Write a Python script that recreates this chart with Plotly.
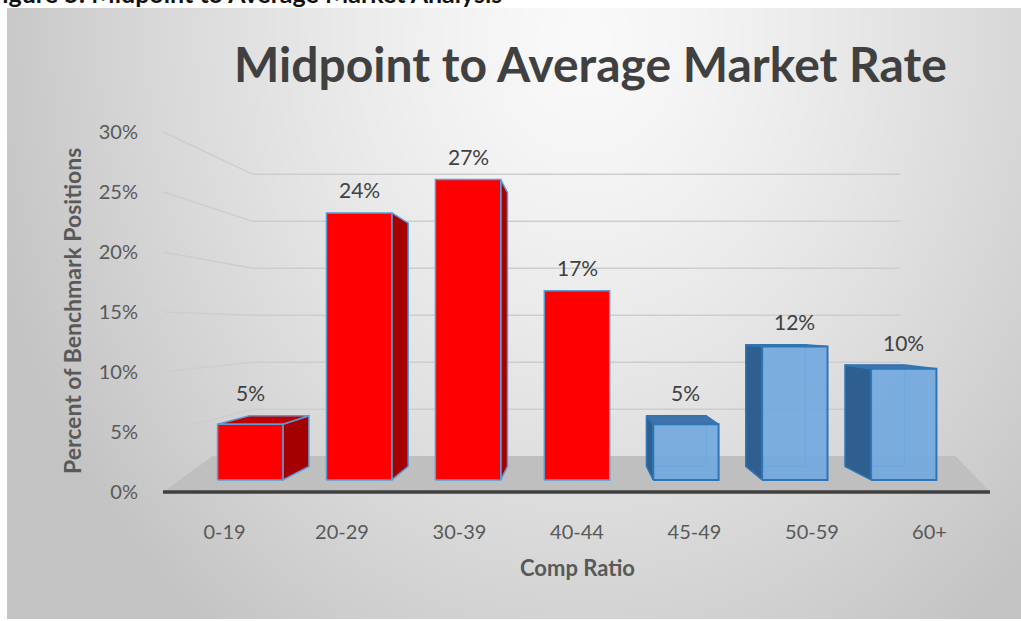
import base64
import struct
import zlib

import numpy as np
import plotly.graph_objects as go

# ---------------------------------------------------------------- data
categories = ["0-19", "20-29", "30-39", "40-44", "45-49", "50-59", "60+"]
percent_values = [5, 24, 27, 17, 5, 12, 10]
value_labels = ["5%", "24%", "27%", "17%", "5%", "12%", "10%"]
below_midpoint_count = 4            # first four ranges are drawn in red
y_tick_values = [0, 5, 10, 15, 20, 25, 30]
y_tick_labels = ["0%", "5%", "10%", "15%", "20%", "25%", "30%"]

chart_title = "Midpoint to Average Market Rate"
caption_text = "Figure 5: Midpoint to Average Market Analysis"
x_title = "Comp Ratio"
y_title = "Percent of Benchmark Positions"

# ---------------------------------------------------------------- layout geometry
W, H = 1021, 621
M_L, M_R, M_T, M_B = 163, 31, 100, 121
PW, PH = W - M_L - M_R, H - M_T - M_B
X_RANGE = [-0.5234, 6.5149]
Y_RANGE = [-0.6667, 32.6667]

# simple perspective: points are pulled toward a vanishing point by a depth factor
VANISH_X, VANISH_Y = 3.0, 13.75
K_FRONT, K_BACK, K_WALL = 0.927, 0.845, 0.783
HALF_W = 0.30
FLOOR_BACK_X = (-0.10, 6.22)
FLOOR_BACK_Y = 3.0

FONT = "Lato"
TEXT_GREY = "#595959"
DARK_TEXT = "#404040"


def proj(x, y, k):
    return VANISH_X + k * (x - VANISH_X), VANISH_Y + k * (y - VANISH_Y)


def px_to_paper_x(px):
    return (px - M_L) / PW


def px_to_paper_y(py):
    return (H - M_B - py) / PH


def png_data_uri(arr):
    h, w, _ = arr.shape
    raw = b"".join(b"\x00" + arr[r].tobytes() for r in range(h))

    def chunk(tag, data):
        body = tag + data
        return struct.pack(">I", len(data)) + body + struct.pack(">I", zlib.crc32(body) & 0xFFFFFFFF)

    png = (b"\x89PNG\r\n\x1a\n"
           + chunk(b"IHDR", struct.pack(">IIBBBBB", w, h, 8, 2, 0, 0, 0))
           + chunk(b"IDAT", zlib.compress(raw, 9))
           + chunk(b"IEND", b""))
    return "data:image/png;base64," + base64.b64encode(png).decode()


def background_gradient(w=254, h=153):
    xs = np.linspace(0, 1, w)[None, :]
    ys = np.linspace(0, 1, h)[:, None]
    dx = (xs - 0.57) / 0.62
    dy = (ys - 0.05) / 1.25
    d = np.clip(np.sqrt(dx ** 2 + dy ** 2), 0, 1)
    v = 250 - 55 * d ** 1.3
    img = np.repeat(v[:, :, None], 3, axis=2)
    return np.clip(img, 0, 255).astype(np.uint8)


fig = go.Figure()


def poly(xs, ys, fill, line_color=None, line_width=0):
    fig.add_trace(go.Scatter(
        x=list(xs) + [xs[0]], y=list(ys) + [ys[0]], mode="lines",
        fill="toself", fillcolor=fill,
        line=dict(color=line_color or "rgba(0,0,0,0)", width=line_width),
        hoverinfo="skip", showlegend=False))


def polyline(xs, ys, color, width):
    fig.add_trace(go.Scatter(
        x=xs, y=ys, mode="lines", line=dict(color=color, width=width),
        hoverinfo="skip", showlegend=False))


# ---------------------------------------------------------------- floor and walls
poly([X_RANGE[0], FLOOR_BACK_X[0], FLOOR_BACK_X[1], X_RANGE[1]],
     [0, FLOOR_BACK_Y, FLOOR_BACK_Y, 0], "#bfbfbf")

for v in y_tick_values[1:]:
    wl = proj(X_RANGE[0], v, K_WALL)
    wr = proj(X_RANGE[1], v, K_WALL)
    polyline([X_RANGE[0], wl[0], wr[0]], [v, wl[1], wr[1]], "#cdcdcd", 1.4)

polyline([X_RANGE[0], X_RANGE[1]], [0, 0], "#3f3f3f", 3.5)

# ---------------------------------------------------------------- bars
RED = dict(front="#ff0000", side="#a50000", top="#c00000", edge="#5b9bd5")
BLUE = dict(front="#70a9df", side="#2f5f8e", top="#3f73aa", edge="#2e75b6")

for i, v in enumerate(percent_values):
    style = RED if i < below_midpoint_count else BLUE
    xl, xr = i - HALF_W, i + HALF_W
    f_bl, f_tl = proj(xl, 0, K_FRONT), proj(xl, v, K_FRONT)
    f_br, f_tr = proj(xr, 0, K_FRONT), proj(xr, v, K_FRONT)
    b_bl, b_tl = proj(xl, 0, K_BACK), proj(xl, v, K_BACK)
    b_br, b_tr = proj(xr, 0, K_BACK), proj(xr, v, K_BACK)

    if style is BLUE:
        # edges behind the translucent front face
        ghost = "rgba(46,117,182,0.55)"
        polyline([b_bl[0], b_br[0], b_tr[0], b_tl[0], b_bl[0]],
                 [b_bl[1], b_br[1], b_tr[1], b_tl[1], b_bl[1]], ghost, 1.2)

    faces = []
    if xl > VANISH_X:   # left side faces the viewer
        faces.append(([f_bl, f_tl, b_tl, b_bl], style["side"]))
    if xr < VANISH_X:   # right side faces the viewer
        faces.append(([f_br, f_tr, b_tr, b_br], style["side"]))
    if v < VANISH_Y:    # top faces the viewer
        faces.append(([f_tl, f_tr, b_tr, b_tl], style["top"]))
    for pts, col in faces:
        poly([p[0] for p in pts], [p[1] for p in pts], col, style["edge"], 1.5)

    front_fill = style["front"] if style is RED else "rgba(112,169,223,0.9)"
    poly([f_bl[0], f_br[0], f_tr[0], f_tl[0]], [f_bl[1], f_br[1], f_tr[1], f_tl[1]],
         front_fill, style["edge"], 1.5 if style is RED else 2)

    label_y = max(f_tl[1], b_tl[1])
    fig.add_annotation(x=proj(i, v, K_FRONT)[0], y=label_y, text=value_labels[i],
                       showarrow=False, yanchor="middle", yshift=23,
                       font=dict(family=FONT, size=21, color=DARK_TEXT))

# ---------------------------------------------------------------- titles
fig.add_annotation(xref="paper", yref="paper", x=px_to_paper_x(590), y=px_to_paper_y(64),
                   text=chart_title, showarrow=False, xanchor="center", yanchor="middle",
                   font=dict(family=FONT, size=48, color=DARK_TEXT, weight="bold"))
fig.add_annotation(xref="paper", yref="paper", x=px_to_paper_x(-14), y=px_to_paper_y(10),
                   text=caption_text, showarrow=False, xanchor="left", yanchor="bottom",
                   font=dict(family=FONT, size=25, color="#111111", weight="bold"))
fig.add_annotation(xref="x", yref="paper", x=VANISH_X, y=px_to_paper_y(567),
                   text=x_title, showarrow=False, xanchor="center", yanchor="middle",
                   font=dict(family=FONT, size=22, color=TEXT_GREY, weight="bold"))
fig.add_annotation(xref="paper", yref="paper", x=px_to_paper_x(72), y=px_to_paper_y(311),
                   text=y_title, showarrow=False, textangle=-90,
                   xanchor="center", yanchor="middle",
                   font=dict(family=FONT, size=23, color=TEXT_GREY, weight="bold"))

fig.add_layout_image(dict(
    source=png_data_uri(background_gradient()), xref="paper", yref="paper",
    x=px_to_paper_x(7), y=px_to_paper_y(8), sizex=(W - 7) / PW, sizey=(619 - 8) / PH,
    xanchor="left", yanchor="top", sizing="stretch", layer="below"))

fig.update_layout(
    width=W, height=H, autosize=False,
    margin=dict(l=M_L, r=M_R, t=M_T, b=M_B),
    paper_bgcolor="white", plot_bgcolor="rgba(0,0,0,0)",
    showlegend=False,
    xaxis=dict(range=X_RANGE, tickvals=list(range(len(categories))), ticktext=categories,
               showgrid=False, zeroline=False, showline=False,
               ticks="outside", ticklen=14, tickcolor="rgba(0,0,0,0)",
               tickfont=dict(family=FONT, size=20, color=TEXT_GREY), fixedrange=True),
    yaxis=dict(range=Y_RANGE, tickvals=y_tick_values, ticktext=y_tick_labels,
               showgrid=False, zeroline=False, showline=False,
               ticks="outside", ticklen=20, tickcolor="rgba(0,0,0,0)",
               tickfont=dict(family=FONT, size=20, color=TEXT_GREY), fixedrange=True),
)

fig.write_html("out.html", config={"displayModeBar": False})
